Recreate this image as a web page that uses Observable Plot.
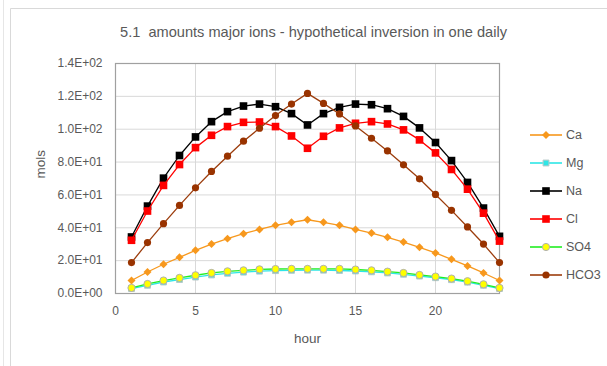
<!DOCTYPE html>
<html><head><meta charset="utf-8">
<script src="https://cdn.jsdelivr.net/npm/d3@7"></script>
<script src="https://cdn.jsdelivr.net/npm/@observablehq/plot@0.6"></script>
<style>body{margin:0;background:#fff;} svg{display:block}</style>
</head><body><div id="chart"></div>
<script>
const hours = [1,2,3,4,5,6,7,8,9,10,11,12,13,14,15,16,17,18,19,20,21,22,23,24];
const Ca   = [7.9,13.1,17.8,22.0,26.3,30.1,33.4,36.4,39.0,41.5,43.3,44.9,43.3,41.5,39.0,36.8,34.2,31.3,28.1,24.7,20.8,16.8,12.5,7.9];
const Mg   = [3.0,5.0,7.0,8.5,10.0,11.3,12.3,13.0,13.6,13.9,14.1,14.2,14.2,14.0,13.7,13.2,12.5,11.7,10.6,9.6,8.4,6.9,5.0,3.0];
const Na   = [34.4,53.2,70.2,84.0,95.3,104.6,110.7,114.1,115.3,113.7,109.5,102.6,109.5,113.3,115.3,114.9,112.5,107.8,100.8,91.9,80.9,67.6,52.0,34.8];
const Cl   = [32.4,50.2,65.8,78.5,88.8,96.3,101.6,104.2,104.4,101.6,95.9,88.4,95.7,100.8,103.6,104.6,103.2,99.6,93.5,85.6,75.5,63.5,48.9,31.9];
const SO4  = [3.4,5.8,7.9,9.5,11.1,12.5,13.5,14.1,14.7,14.9,15.0,15.0,15.0,15.0,14.6,14.1,13.3,12.5,11.3,10.3,9.1,7.5,5.6,3.4];
const HCO3 = [18.8,31.0,42.5,53.6,64.3,74.3,83.6,92.7,100.6,108.3,115.3,121.8,115.7,109.3,102.0,94.5,86.8,78.3,69.8,60.3,50.6,40.5,30.1,18.8];

const seriesNames = ["Ca","Mg","Na","Cl","SO4","HCO3"];
const seriesValues = [Ca, Mg, Na, Cl, SO4, HCO3];
const xTicks = [0,5,10,15,20];
const yTicks = [0,20,40,60,80,100,120,140];
const yTickLabels = ["0.0E+00","2.0E+01","4.0E+01","6.0E+01","8.0E+01","1.0E+02","1.2E+02","1.4E+02"];
const titleText = "5.1  amounts major ions - hypothetical inversion in one daily";
const xLabel = "hour";
const yLabel = "mols";

const styles = {
  Ca:   {line:"#f7981d", fill:"#f7981d", stroke:"none",    symbol:"diamond2", r:3.6},
  Mg:   {line:"#2ee6e6", fill:"#2ee6e6", stroke:"#b8c8c8", symbol:"square",   r:3.3},
  Na:   {line:"#000000", fill:"#000000", stroke:"none",    symbol:"square",   r:4.3},
  Cl:   {line:"#ff0000", fill:"#ff0000", stroke:"none",    symbol:"square",   r:4.3},
  SO4:  {line:"#22ee22", fill:"#ffff00", stroke:"#b0b0b0", symbol:"circle",   r:3.6},
  HCO3: {line:"#9c3d0d", fill:"#993300", stroke:"none",    symbol:"circle",   r:3.6}
};

const table = seriesNames.map((name, k) => hours.map((h, i) => ({ion: name, hour: h, value: seriesValues[k][i]})));

const font = "'Liberation Sans', Arial, sans-serif";
const seriesMarks = [];
table.forEach((rows) => {
  const s = styles[rows[0].ion];
  seriesMarks.push(Plot.line(rows, {x:"hour", y:"value", stroke:s.line, strokeWidth:1.3}));
  seriesMarks.push(Plot.dot(rows, {x:"hour", y:"value", symbol:s.symbol, r:s.r, fill:s.fill, stroke:s.stroke, strokeWidth:1}));
});

const chart = Plot.plot({
  width:607, height:366,
  marginLeft:115, marginRight:108, marginTop:63, marginBottom:73,
  style:{fontFamily:font, fontSize:"12px", color:"#595959", background:"white", overflow:"visible"},
  x:{domain:[0,24]},
  y:{domain:[0,140]},
  marks:[
    Plot.gridX(xTicks, {stroke:"#d9d9d9", strokeOpacity:1, strokeWidth:1}),
    Plot.gridY(yTicks, {stroke:"#d9d9d9", strokeOpacity:1, strokeWidth:1}),
    Plot.frame({stroke:"#a0a0a0", strokeWidth:1.2}),
    Plot.axisX(xTicks, {tickSize:0, tickPadding:13, label:null, fill:"#595959"}),
    Plot.axisY(yTicks, {tickSize:0, tickPadding:13, label:null, tickFormat:(d,i)=>yTickLabels[yTicks.indexOf(d)], fill:"#595959"}),
    ...seriesMarks,
    Plot.text([titleText], {frameAnchor:"top", dx:6, dy:-31, lineAnchor:"middle", fontSize:14.6, fill:"#595959"}),
    Plot.text([xLabel], {frameAnchor:"bottom", dy:45, lineAnchor:"middle", fontSize:13.5, fill:"#595959"}),
    Plot.text([yLabel], {frameAnchor:"left", dx:-75, rotate:-90, lineAnchor:"middle", fontSize:13.5, fill:"#595959"})
  ]
});
document.getElementById("chart").appendChild(chart);

// chart-area borders and legend
const svg = d3.select(chart);
svg.insert("line", ":first-child").attr("x1",3.5).attr("x2",3.5).attr("y1",0).attr("y2",366).attr("stroke","#e6e6e6");
svg.insert("path", ":first-child").attr("d","M10.5,366V8.5H607").attr("fill","none").attr("stroke","#d9d9d9");

const legend = svg.append("g").attr("font-family", font).attr("font-size", 12.5).attr("fill", "#595959").attr("text-anchor", "start");
const symbolMap = {circle:d3.symbolCircle, square:d3.symbolSquare, diamond2:d3.symbolDiamond2};
seriesNames.forEach((name, i) => {
  const s = styles[name];
  const y = 135 + i * 28;
  const g = legend.append("g").attr("transform", `translate(0,${y})`);
  g.append("line").attr("x1",530).attr("x2",562).attr("y1",0).attr("y2",0).attr("stroke",s.line).attr("stroke-width",1.6);
  g.append("path").attr("transform","translate(546,0)")
    .attr("d", d3.symbol(symbolMap[s.symbol], Math.PI * s.r * s.r)())
    .attr("fill", s.fill).attr("stroke", s.stroke).attr("stroke-width", 1);
  g.append("text").attr("x",566).attr("y",0).attr("dy","0.35em").attr("text-anchor","start").text(name);
});
</script>
</body></html>
